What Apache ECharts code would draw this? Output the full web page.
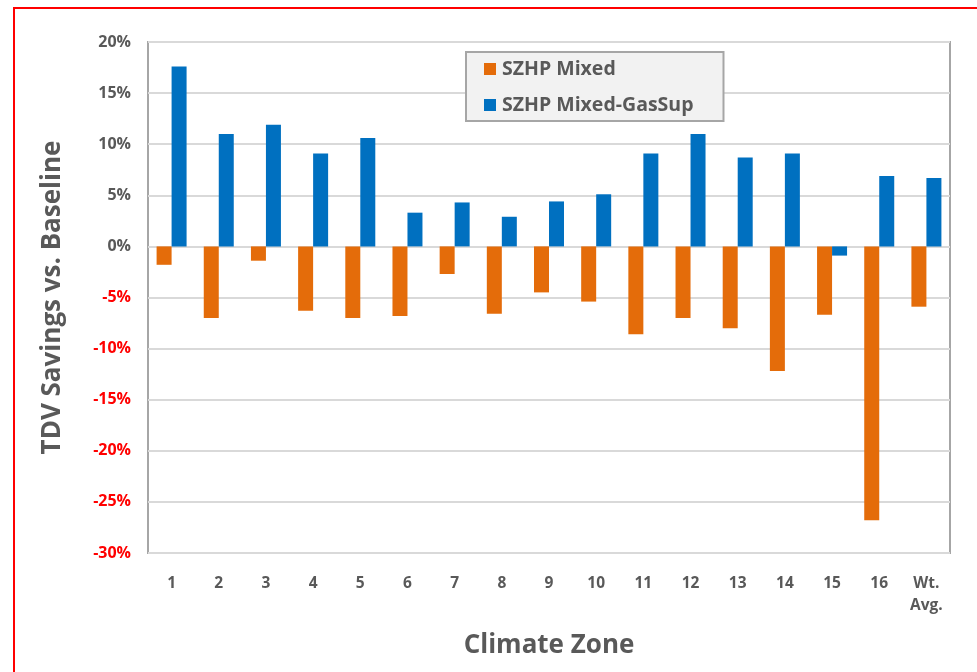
<!DOCTYPE html>
<html>
<head>
<meta charset="utf-8">
<script src="https://cdn.jsdelivr.net/npm/echarts@6/dist/echarts.min.js"></script>
<style>
  html, body { margin: 0; padding: 0; background: #fff; }
  #chart { width: 977px; height: 672px; }
</style>
</head>
<body>
<div id="chart"></div>
<script>
// Climate zones along the x axis
const zones = ['1', '2', '3', '4', '5', '6', '7', '8', '9', '10', '11', '12', '13', '14', '15', '16', 'Wt.\nAvg.'];

// TDV savings relative to baseline, in percent
const szhpMixed = [-1.8, -7.0, -1.4, -6.3, -7.0, -6.8, -2.7, -6.6, -4.5, -5.4, -8.6, -7.0, -8.0, -12.2, -6.7, -26.8, -5.9];
const szhpMixedGasSup = [17.6, 11.0, 11.9, 9.1, 10.6, 3.3, 4.3, 2.9, 4.4, 5.1, 9.1, 11.0, 8.7, 9.1, -0.9, 6.9, 6.7];

// Y axis range and step (percent)
const yMin = -30, yMax = 20, yStep = 5;

const textGray = '#595959';
const font = '"Open Sans", Lato, sans-serif';

const chart = echarts.init(document.getElementById('chart'));
chart.setOption({
  backgroundColor: '#ffffff',
  animation: false,
  textStyle: { fontFamily: font },
  graphic: [{
    type: 'rect',
    shape: { x: 14, y: 8, width: 990, height: 700 },
    style: { fill: 'none', stroke: '#ff0000', lineWidth: 2 },
    silent: true
  }],
  grid: {
    left: 148, top: 42, right: 27, bottom: 119,
    show: true, borderColor: '#a6a6a6', borderWidth: 2, backgroundColor: 'transparent'
  },
  legend: {
    orient: 'vertical',
    left: 466, top: 52,
    itemWidth: 12, itemHeight: 12, itemGap: 16,
    icon: 'rect',
    padding: [7, 30, 6, 18],
    backgroundColor: '#f2f2f2',
    borderColor: '#a6a6a6', borderWidth: 2, borderRadius: 0,
    textStyle: { fontFamily: font, fontSize: 19.5, fontWeight: 'bold', color: textGray, padding: [0, 0, 0, 1] },
    data: ['SZHP Mixed', 'SZHP Mixed-GasSup']
  },
  xAxis: {
    type: 'category',
    data: zones,
    name: 'Climate Zone',
    nameLocation: 'middle',
    nameGap: 80,
    nameTextStyle: { fontFamily: font, fontSize: 26, fontWeight: 'bold', color: textGray },
    axisLine: { show: false },
    axisTick: { show: false },
    axisLabel: { fontFamily: font, fontSize: 15.5, fontWeight: 'bold', color: textGray, margin: 20, lineHeight: 22 }
  },
  yAxis: {
    type: 'value',
    min: yMin, max: yMax, interval: yStep,
    name: 'TDV Savings vs. Baseline',
    nameLocation: 'middle',
    nameGap: 82,
    nameTextStyle: { fontFamily: font, fontSize: 26, fontWeight: 'bold', color: textGray },
    axisLine: { show: false },
    axisTick: { show: false },
    splitLine: { lineStyle: { color: '#d9d9d9', width: 2 } },
    axisLabel: {
      fontFamily: font, fontSize: 16, fontWeight: 'bold', margin: 17,
      formatter: '{value}%',
      color: function (v) { return Number(v) < 0 ? '#ff0000' : textGray; }
    }
  },
  series: [
    {
      name: 'SZHP Mixed', type: 'bar', data: szhpMixed,
      barWidth: 15, barGap: '0%',
      itemStyle: { color: '#e46c0a' }
    },
    {
      name: 'SZHP Mixed-GasSup', type: 'bar', data: szhpMixedGasSup,
      barWidth: 15,
      itemStyle: { color: '#0070c0' }
    }
  ]
});
</script>
</body>
</html>
